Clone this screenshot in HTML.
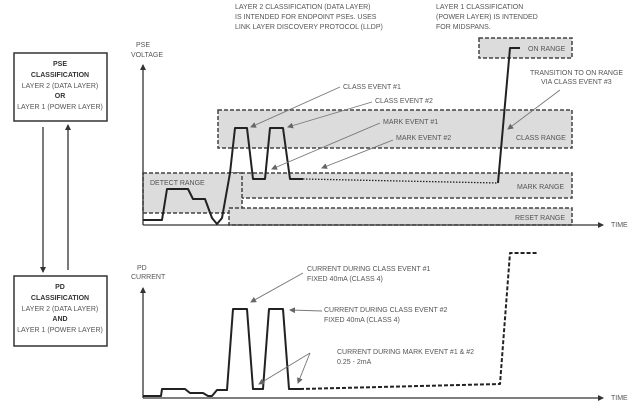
<!DOCTYPE html>
<html><head><meta charset="utf-8"><style>
html,body{margin:0;padding:0;background:#fff;}
svg{display:block;}
text{font-family:"Liberation Sans Narrow","Liberation Sans",sans-serif;font-size:7px;fill:#555;}
</style></head><body>
<svg width="640" height="409" viewBox="0 0 640 409" xmlns="http://www.w3.org/2000/svg">
<defs>
<marker id="ah" markerWidth="6" markerHeight="6" refX="5" refY="3" orient="auto" markerUnits="userSpaceOnUse"><path d="M0,0 L6,3 L0,6 z" fill="#333"/></marker>
<marker id="ag" markerWidth="6" markerHeight="6" refX="5" refY="3" orient="auto" markerUnits="userSpaceOnUse"><path d="M0,0 L6,3 L0,6 z" fill="#666"/></marker>
</defs>
<g fill="#dcdcdc" stroke="#444" stroke-width="1.5" stroke-dasharray="4,2">
<rect x="479" y="38" width="93" height="20"/>
<rect x="218" y="110" width="354" height="38"/>
<rect x="229" y="173" width="343" height="25"/>
<rect x="143" y="173" width="99" height="40"/>
<rect x="229" y="208" width="343" height="17"/>
</g>
<text x="150" y="185">DETECT RANGE</text>
<text x="528" y="51">ON RANGE</text>
<text x="516" y="140">CLASS RANGE</text>
<text x="517" y="189">MARK RANGE</text>
<text x="515" y="220">RESET RANGE</text>
<g stroke="#333" stroke-width="1.3" fill="none">
<line x1="143" y1="225" x2="603" y2="225" marker-end="url(#ah)"/>
<line x1="143" y1="225" x2="143" y2="65" marker-end="url(#ah)"/>
<line x1="143" y1="398" x2="603" y2="398" marker-end="url(#ah)"/>
<line x1="143" y1="398" x2="143" y2="288" marker-end="url(#ah)"/>
<line x1="43" y1="127" x2="43" y2="272" marker-end="url(#ah)"/>
<line x1="68" y1="270" x2="68" y2="125" marker-end="url(#ah)"/>
</g>
<text x="136" y="47">PSE</text><text x="131" y="57">VOLTAGE</text>
<text x="137" y="270">PD</text><text x="131" y="279">CURRENT</text>
<text x="611" y="227">TIME</text><text x="611" y="400">TIME</text>
<g stroke="#222" stroke-width="2" fill="none" stroke-linejoin="round">
<polyline points="143,220 162,220 167,189 188,189 193,199 205,199 212,218 217,224 222,218 230,173 235,128 247,128 253,179 265,179 270,128 283,128 290,179 303,179"/>
<polyline stroke-width="1.3" stroke-dasharray="1.5,1.5" points="303,179 498,183"/>
<polyline points="498,183 510,48 520,48"/>
<polyline points="143,396 161,396 162,389 185,389 190,393 203,393 208,396 212,396 217,390 227,390 233,309 247,309 253,389 263,389 269,309 283,309 289,389 300,389"/>
<polyline stroke-dasharray="4,2" points="300,389 500,384 510,253 538,253"/>
</g>
<g stroke="#777" stroke-width="0.9" fill="none">
<line x1="340" y1="87" x2="251" y2="127" marker-end="url(#ag)"/>
<line x1="372" y1="102" x2="288" y2="127" marker-end="url(#ag)"/>
<line x1="380" y1="123" x2="272" y2="169" marker-end="url(#ag)"/>
<line x1="393" y1="140" x2="322" y2="168" marker-end="url(#ag)"/>
<line x1="560" y1="90" x2="508" y2="129" marker-end="url(#ag)"/>
<line x1="303" y1="273" x2="251" y2="302" marker-end="url(#ag)"/>
<line x1="322" y1="311" x2="290" y2="310" marker-end="url(#ag)"/>
<line x1="310" y1="353" x2="259" y2="384" marker-end="url(#ag)"/>
<line x1="310" y1="353" x2="298" y2="383" marker-end="url(#ag)"/>
</g>
<text x="343" y="89">CLASS EVENT #1</text>
<text x="375" y="103">CLASS EVENT #2</text>
<text x="383" y="124">MARK EVENT #1</text>
<text x="396" y="140">MARK EVENT #2</text>
<text x="530" y="75">TRANSITION TO ON RANGE</text>
<text x="541" y="84">VIA CLASS EVENT #3</text>
<text x="235" y="9">LAYER 2 CLASSIFICATION (DATA LAYER)</text>
<text x="235" y="19">IS INTENDED FOR ENDPOINT PSEs. USES</text>
<text x="235" y="29">LINK LAYER DISCOVERY PROTOCOL (LLDP)</text>
<text x="436" y="9">LAYER 1 CLASSIFICATION</text>
<text x="436" y="19">(POWER LAYER) IS INTENDED</text>
<text x="436" y="29">FOR MIDSPANS.</text>
<text x="307" y="271">CURRENT DURING CLASS EVENT #1</text>
<text x="307" y="281">FIXED 40mA (CLASS 4)</text>
<text x="324" y="312">CURRENT DURING CLASS EVENT #2</text>
<text x="324" y="322">FIXED 40mA (CLASS 4)</text>
<text x="337" y="354">CURRENT DURING MARK EVENT #1 &amp; #2</text>
<text x="337" y="364">0.25 - 2mA</text>
<g fill="#fff" stroke="#333" stroke-width="1.5">
<rect x="14" y="53" width="93" height="68"/>
<rect x="14" y="276" width="93" height="70"/>
</g>
<g text-anchor="middle">
<text x="60" y="66" style="font-weight:bold;fill:#333">PSE</text>
<text x="60" y="77" style="font-weight:bold;fill:#333">CLASSIFICATION</text>
<text x="60" y="88">LAYER 2 (DATA LAYER)</text>
<text x="60" y="98" style="font-weight:bold;fill:#333">OR</text>
<text x="60" y="109">LAYER 1 (POWER LAYER)</text>
<text x="60" y="289" style="font-weight:bold;fill:#333">PD</text>
<text x="60" y="300" style="font-weight:bold;fill:#333">CLASSIFICATION</text>
<text x="60" y="311">LAYER 2 (DATA LAYER)</text>
<text x="60" y="321" style="font-weight:bold;fill:#333">AND</text>
<text x="60" y="332">LAYER 1 (POWER LAYER)</text>
</g>
</svg>
</body></html>
